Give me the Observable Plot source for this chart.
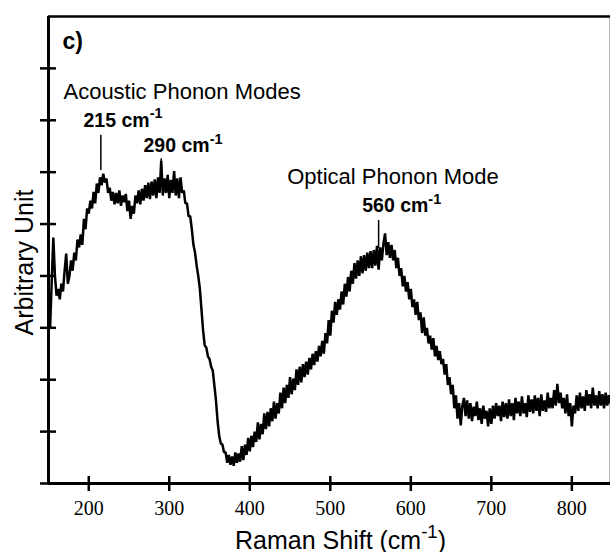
<!DOCTYPE html>
<html>
<head>
<meta charset="utf-8">
<script src="https://cdn.jsdelivr.net/npm/d3@7"></script>
<script src="https://cdn.jsdelivr.net/npm/@observablehq/plot@0.6"></script>
<style>
  html, body { margin: 0; padding: 0; background: #fff; overflow: hidden; }
  #chart { width: 610px; height: 552px; }
</style>
</head>
<body>
<div id="chart"></div>
<script>
// ---- data ----
const shiftStart = 150;   // cm-1, first sample
const shiftStep = 2;      // cm-1 between samples
const intensity = [
  3.00, 3.00, 3.90, 4.74, 4.00, 3.62, 3.75, 3.55, 3.85, 3.70, 4.10, 4.43, 3.85, 4.00, 4.30, 4.10, 4.45, 4.30, 4.70, 4.55,
  4.80, 4.60, 5.10, 4.90, 5.30, 5.20, 5.45, 5.30, 5.62, 5.40, 5.78, 5.60, 5.90, 5.75, 5.97, 5.80, 5.88, 5.60, 5.70, 5.45,
  5.62, 5.38, 5.60, 5.40, 5.65, 5.35, 5.55, 5.42, 5.58, 5.25, 5.45, 5.10, 5.35, 5.20, 5.55, 5.40, 5.65, 5.38, 5.68, 5.45,
  5.75, 5.50, 5.80, 5.48, 5.82, 5.55, 5.86, 5.50, 5.90, 5.60, 6.22, 5.55, 5.88, 5.60, 5.95, 5.50, 5.85, 5.60, 6.02, 5.55,
  5.88, 5.50, 5.90, 5.60, 5.65, 5.40, 5.40, 5.15, 5.15, 4.90, 4.60, 4.45, 4.20, 4.00, 3.75, 3.35, 2.95, 2.66, 2.62, 2.45,
  2.40, 2.25, 2.18, 1.89, 1.60, 1.20, 0.92, 0.77, 0.75, 0.60, 0.60, 0.40, 0.55, 0.36, 0.52, 0.34, 0.60, 0.40, 0.58, 0.42,
  0.72, 0.45, 0.75, 0.55, 0.88, 0.62, 0.92, 0.70, 1.00, 0.80, 1.18, 0.85, 1.15, 0.95, 1.35, 1.05, 1.38, 1.10, 1.45, 1.20,
  1.58, 1.25, 1.55, 1.35, 1.75, 1.45, 1.85, 1.55, 1.90, 1.65, 2.05, 1.72, 2.02, 1.80, 2.20, 1.90, 2.25, 1.95, 2.30, 2.05,
  2.35, 2.10, 2.42, 2.20, 2.50, 2.28, 2.55, 2.35, 2.65, 2.45, 2.75, 2.50, 2.90, 2.70, 3.15, 2.85, 3.33, 3.10, 3.50, 3.25,
  3.55, 3.35, 3.70, 3.45, 3.85, 3.60, 3.98, 3.70, 4.10, 3.85, 4.25, 3.95, 4.30, 4.00, 4.38, 4.05, 4.40, 4.10, 4.45, 4.15,
  4.48, 4.15, 4.50, 4.20, 4.58, 4.12, 4.55, 4.30, 4.62, 4.82, 4.40, 4.65, 4.35, 4.60, 4.30, 4.50, 4.15, 4.35, 4.00, 4.15,
  3.80, 4.00, 3.70, 3.88, 3.55, 3.75, 3.40, 3.55, 3.25, 3.50, 3.15, 3.30, 2.90, 3.20, 2.85, 3.00, 2.70, 2.85, 2.58, 2.80,
  2.45, 2.65, 2.38, 2.55, 2.30, 2.40, 2.10, 2.30, 1.90, 2.05, 1.72, 1.90, 1.45, 1.70, 1.25, 1.55, 1.12, 1.50, 1.65, 1.30,
  1.60, 1.25, 1.55, 1.20, 1.48, 1.30, 1.58, 1.22, 1.45, 1.15, 1.50, 1.25, 1.40, 1.10, 1.45, 1.15, 1.50, 1.25, 1.55, 1.30,
  1.50, 1.20, 1.58, 1.28, 1.55, 1.25, 1.62, 1.30, 1.55, 1.22, 1.65, 1.35, 1.58, 1.30, 1.68, 1.35, 1.55, 1.28, 1.70, 1.38,
  1.62, 1.35, 1.70, 1.40, 1.65, 1.30, 1.72, 1.40, 1.60, 1.38, 1.75, 1.45, 1.65, 1.45, 1.80, 1.50, 1.92, 1.55, 1.75, 1.45,
  1.65, 1.35, 1.72, 1.30, 1.55, 1.10, 1.50, 1.35, 1.70, 1.40, 1.75, 1.45, 1.68, 1.40, 1.80, 1.50, 1.72, 1.45, 1.85, 1.50,
  1.70, 1.45, 1.78, 1.50, 1.72, 1.45, 1.75, 1.50, 1.70, 1.55
];
const xDomain = [150, 848];
const yDomain = [0, 9];
const xTicks = [200, 300, 400, 500, 600, 700, 800];
const yTicks = [0, 1, 2, 3, 4, 5, 6, 7, 8];

const xTitle = "Raman Shift (cm{-1})";
const yTitle = "Arbitrary Unit";

const noteText   = ["c)", "Acoustic Phonon Modes", "215 cm{-1}", "290 cm{-1}", "Optical Phonon Mode", "560 cm{-1}"];
const noteShift  = [167.4, 168.6, 193.5, 268, 446.5, 539.6];
const noteValue  = [8.38, 7.41, 6.88, 6.38, 5.77, 5.23];
const noteBold   = [true, false, true, true, false, true];
const noteSize   = [23, 22, 19.5, 19.5, 22, 19.5];

const peakShift  = [215, 290, 560];
const peakTop    = [6.71, 6.26, 5.07];
const peakBottom = [6.03, 5.99, 4.53];

// ---- tables built from the arrays ----
const spectrum = intensity.map((v, i) => ({shift: shiftStart + i * shiftStep, value: v}));
const notes = noteText.map((t, i) => ({text: t, shift: noteShift[i], value: noteValue[i], bold: noteBold[i], size: noteSize[i]}));
const peaks = peakShift.map((s, i) => ({shift: s, top: peakTop[i], bottom: peakBottom[i]}));

const sans = "'Liberation Sans', Arial, Helvetica, sans-serif";
const serif = "'Liberation Serif', 'DejaVu Serif', 'Times New Roman', serif";

const noteMarks = [];
for (const bold of [false, true]) {
  noteMarks.push(Plot.text(notes.filter(d => d.bold === bold), {
    x: "shift", y: "value", text: "text", fontSize: "size",
    textAnchor: "start", lineAnchor: "bottom",
    fontWeight: bold ? "bold" : "normal", fontFamily: sans, fill: "black"
  }));
}

const plot = Plot.plot({
  width: 610,
  height: 552,
  marginLeft: 48,
  marginRight: 0,
  marginTop: 16,
  marginBottom: 69,
  style: {color: "black", background: "white", overflow: "visible"},
  x: {domain: xDomain, axis: null},
  y: {domain: yDomain, axis: null},
  marks: [
    // frame
    Plot.ruleX([xDomain[1]], {stroke: "#bbb", strokeWidth: 1, dx: -1}),
    Plot.ruleY([yDomain[1]], {stroke: "black", strokeWidth: 2.5}),
    Plot.ruleX([xDomain[0]], {stroke: "black", strokeWidth: 3}),
    Plot.ruleY([yDomain[0]], {stroke: "black", strokeWidth: 3}),
    // ticks crossing the axes
    Plot.axisY({ticks: yTicks, tickSize: 16, dx: 8, tickFormat: () => "", strokeWidth: 2.5, label: null}),
    Plot.axisX({ticks: xTicks, tickSize: 15, dy: -7, tickFormat: () => "", strokeWidth: 2.5, label: null}),
    // tick labels (serif)
    Plot.text(xTicks, {x: d => d, y: yDomain[0], text: d => String(d), dy: 17, lineAnchor: "top",
      fontSize: 20, fontFamily: serif, fill: "black"}),
    // spectrum
    Plot.line(spectrum, {x: "shift", y: "value", stroke: "black", strokeWidth: 2.5, strokeLinejoin: "miter"}),
    // peak markers
    Plot.ruleX(peaks, {x: "shift", y1: "bottom", y2: "top", stroke: "black", strokeWidth: 1.5}),
    ...noteMarks,
    // axis titles
    Plot.text([xTitle], {frameAnchor: "bottom", dx: 11, dy: 65, lineAnchor: "bottom", textAnchor: "middle",
      fontSize: 25, fontFamily: sans, fill: "black"}),
    Plot.text([yTitle], {frameAnchor: "left", rotate: -90, dx: -16, dy: 12.5, lineAnchor: "bottom", textAnchor: "middle",
      fontSize: 25, fontFamily: sans, fill: "black"})
  ]
});

document.getElementById("chart").appendChild(plot);

// make sure the numeric tick labels use the serif face
const tickLabelSet = new Set(xTicks.map(String));
d3.select(plot).selectAll("text").each(function () {
  if (tickLabelSet.has(this.textContent.trim())) {
    this.setAttribute("font-family", serif);
    this.style.fontFamily = serif;
  }
});

// superscripts written as {…}
d3.select(plot).selectAll("text").each(function () {
  const t = this.textContent;
  const m = t.match(/^(.*)\{([^}]*)\}(.*)$/);
  if (!m) return;
  const fs = parseFloat(getComputedStyle(this).fontSize);
  const sup = fs * 0.74, rise = fs * 0.42;
  const el = d3.select(this);
  this.textContent = "";
  el.append("tspan").text(m[1]);
  el.append("tspan").attr("dy", -rise).attr("font-size", sup).text(m[2]);
  if (m[3]) el.append("tspan").attr("dy", rise).text(m[3]);
});
</script>
</body>
</html>
